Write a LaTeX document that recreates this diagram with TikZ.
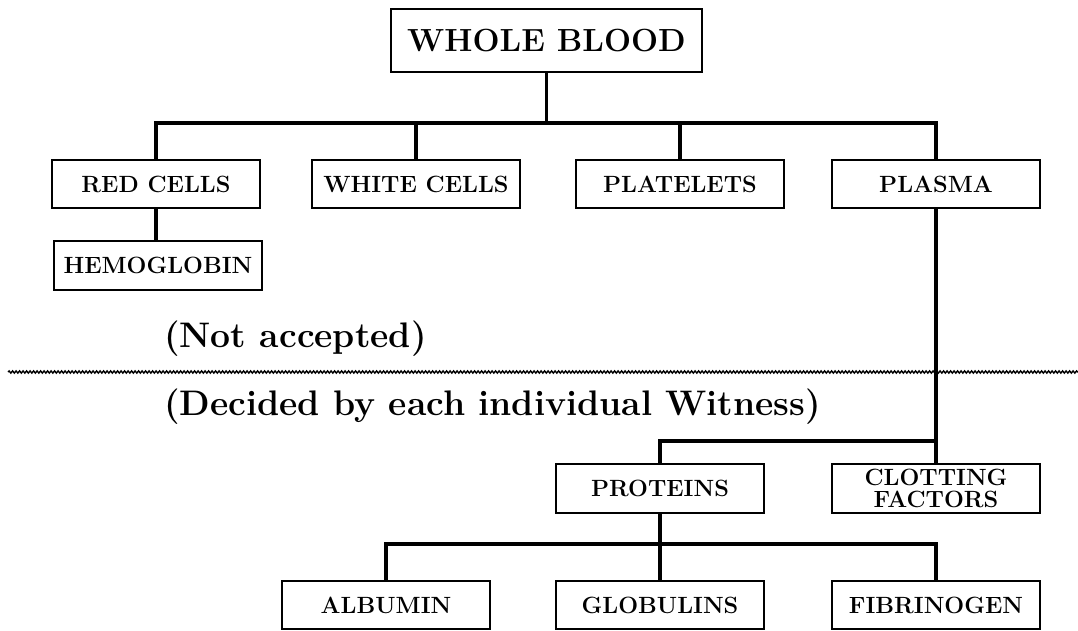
\documentclass[tikz,border=0pt]{standalone}
\usetikzlibrary{decorations.pathmorphing}

\begin{document}
\begin{tikzpicture}[x=1pt, y=-1pt, box/.style={draw, line width=1.5pt, minimum width=208pt, minimum height=48pt, inner sep=0pt, align=center, font=\bfseries\fontsize{23.5}{25}\selectfont}, conn/.style={line width=3.4pt}, note/.style={anchor=west, inner sep=0pt, font=\bfseries\fontsize{35.5}{37}\selectfont}]
	\useasboundingbox (0,0) rectangle (1078,630);
	\node[box, minimum width=311pt, minimum height=63pt, font=\bfseries\fontsize{32}{34}\selectfont] (wb) at (546.5,40.5) {WHOLE BLOOD};
	\node[box] (rc) at (156,184) {RED CELLS};
	\node[box] (wc) at (416,184) {WHITE CELLS};
	\node[box] (pl) at (680,184) {PLATELETS};
	\node[box] (pm) at (936,184) {PLASMA};
	\node[box, minimum height=49pt] (hb) at (158,265.5) {HEMOGLOBIN};
	\node[note] (na) at (164,339) {(Not accepted)};
	\node[note] (dw) at (164,407) {(Decided by each individual Witness)};
	\node[box, minimum height=49pt] (pr) at (660,488.5) {PROTEINS};
	\node[box, minimum height=49pt, font=\bfseries\fontsize{23.5}{22}\selectfont] (cf) at (936,488.5) {CLOTTING\\FACTORS};
	\node[box] (al) at (386,605) {ALBUMIN};
	\node[box] (gl) at (660,605) {GLOBULINS};
	\node[box] (fb) at (936,605) {FIBRINOGEN};
	% separation line
	\draw[line width=1.4pt, decorate, decoration={snake, segment length=3.5pt, amplitude=1.1pt}] (8,372) -- (1078,372);
	% tree
	\coordinate (bar) at (546.5,123);
	\coordinate (pj) at (936,441);
	\coordinate (qj) at (660,544);
	\draw[conn] (wb) -- (bar);
	\draw[conn] (rc.north) |- (bar) -| (pm.north);
	\draw[conn] (wc.north) -- (wc.north |- bar);
	\draw[conn] (pl.north) -- (pl.north |- bar);
	\draw[conn] (rc) -- (rc |- hb.north);
	\draw[conn] (pm) -- (cf);
	\draw[conn] (pr.north) |- (pj);
	\draw[conn] (pr) -- (gl);
	\draw[conn] (al.north) |- (qj) -| (fb.north);
\end{tikzpicture}
\end{document}
